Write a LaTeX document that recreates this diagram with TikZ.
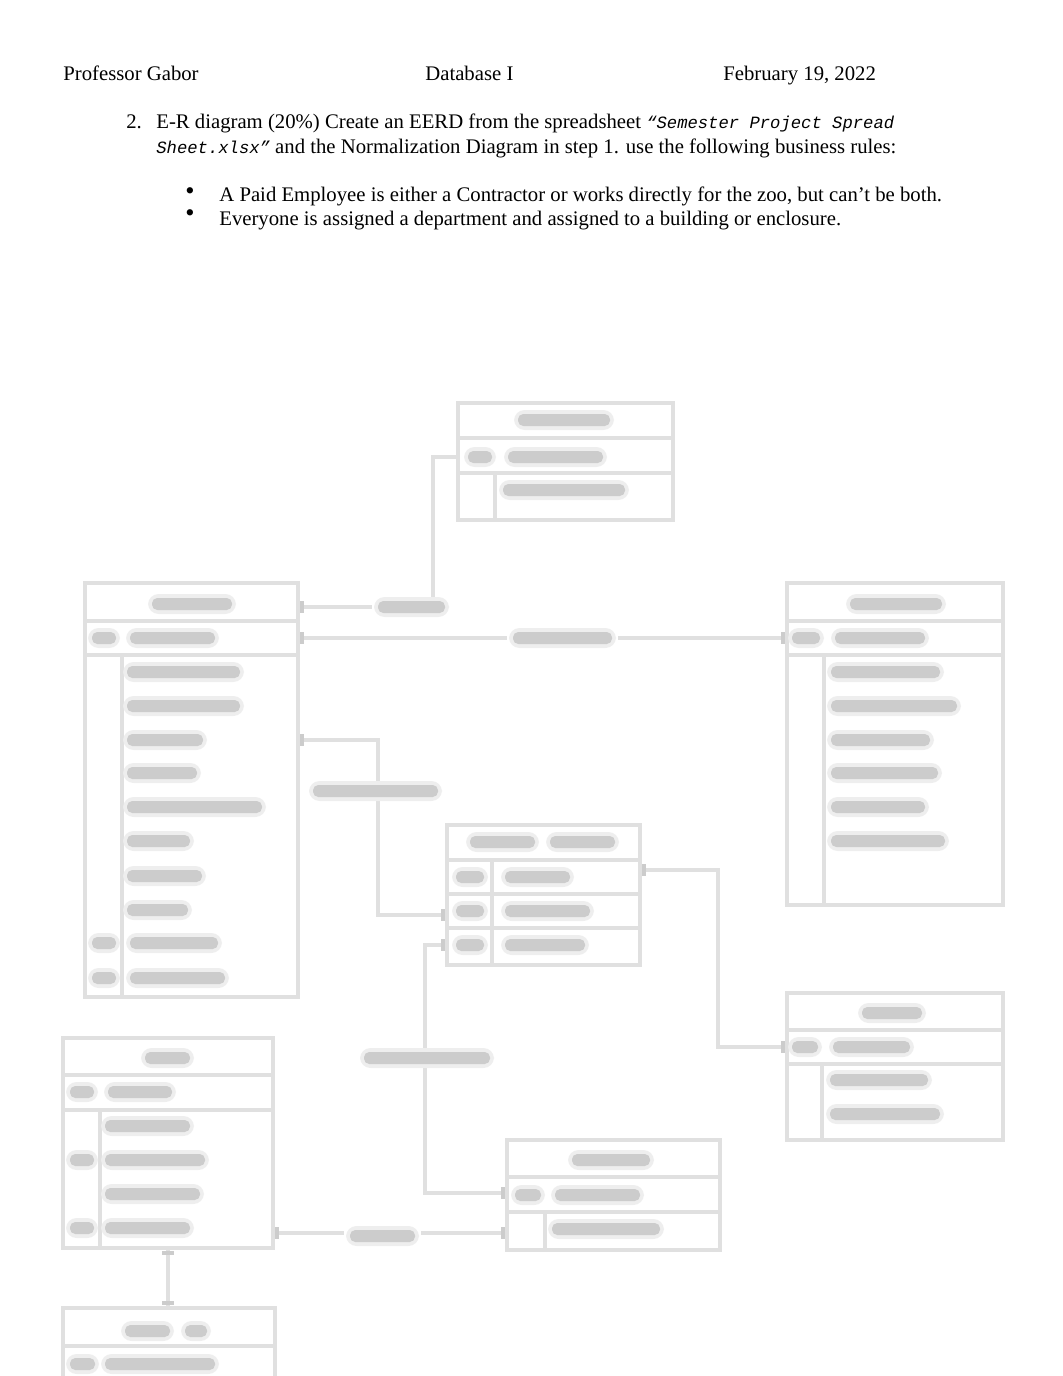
\documentclass[tikz,border=0pt]{standalone}
\usepackage{fontspec}
\setmainfont{Liberation Serif}
\setmonofont{Liberation Mono}
\usetikzlibrary{arrows.meta,calc,positioning}
\definecolor{FrameGray}{RGB}{224,224,224}
\definecolor{InkGray}{RGB}{204,204,204}
\definecolor{HaloGray}{RGB}{238,238,238}
% blurred text line of the scanned diagram
\newcommand{\smudge}[3]{%
	\fill[HaloGray, rounded corners=6pt] (#1-4,#2-10) rectangle (#3+4,#2+10);
	\fill[InkGray, rounded corners=3pt] (#1,#2-6) rectangle (#3,#2+6);}

\begin{document}
\begin{tikzpicture}[x=0.02cm, y=-0.02cm,
	frame/.style={FrameGray, line width=2pt},
	link/.style={FrameGray, line width=2pt},
	ends/.style={InkGray, line width=2.5pt},
	txt/.style={anchor=base west, inner sep=0pt, font=\fontsize{11.8}{14}\selectfont},
	dotmark/.style={txt, font=\fontsize{15}{16}\selectfont}]
		\useasboundingbox (0,0) rectangle (1062,1376);
		% header and task text
		\node[txt] (prof) at (63,80) {Professor Gabor};
		\node[txt] (course) at (425,80) {Database I};
		\node[txt] (date) at (723,80) {February 19, 2022};
		\node[txt] (num) at (126,128) {2.};
		\node[txt] (task1) at (156,128) {E-R diagram (20\%) Create an EERD from the spreadsheet {\fontsize{9.8}{12}\selectfont\ttfamily\itshape “Semester Project Spread}};
		\node[txt] (task2) at (156,153) {{\fontsize{9.8}{12}\selectfont\ttfamily\itshape Sheet.xlsx”} and the Normalization Diagram in step 1. use the following business rules:};
		\node[dotmark] (dot1) at (185,199) {\textbullet};
		\node[txt] (rule1) at (219,201) {A Paid Employee is either a Contractor or works directly for the zoo, but can’t be both.};
		\node[dotmark] (dot2) at (185,221) {\textbullet};
		\node[txt] (rule2) at (219,225) {Everyone is assigned a department and assigned to a building or enclosure.};
		% department
		\draw[frame] (458,403) rectangle (673,520);
		\draw[frame] (458,438) -- (673,438);
		\draw[frame] (458,473) -- (673,473);
		\draw[frame] (495,473) -- (495,520);
		\smudge{518}{420}{610}
		\smudge{468}{457}{492}
		\smudge{508}{457}{603}
		\smudge{503}{490}{625}
		\coordinate (dep-w) at (458,457);
		% employee
		\draw[frame] (85,583) rectangle (298,997);
		\draw[frame] (85,621) -- (298,621);
		\draw[frame] (85,655) -- (298,655);
		\draw[frame] (122,655) -- (122,997);
		\smudge{152}{604}{232}
		\smudge{92}{638}{116}
		\smudge{130}{638}{215}
		\foreach \y/\w in {672/240, 706/240, 740/203, 773/197, 807/262, 841/190, 876/202, 910/188}
			\smudge{127}{\y}{\w};
		\smudge{92}{943}{116}
		\smudge{130}{943}{218}
		\smudge{92}{978}{116}
		\smudge{130}{978}{225}
		\coordinate (emp-e1) at (298,607);
		\coordinate (emp-e2) at (298,638);
		\coordinate (emp-e3) at (298,740);
		% contractor
		\draw[frame] (787,583) rectangle (1003,905);
		\draw[frame] (787,621) -- (1003,621);
		\draw[frame] (787,655) -- (1003,655);
		\draw[frame] (824,655) -- (824,905);
		\smudge{850}{604}{942}
		\smudge{792}{638}{820}
		\smudge{835}{638}{925}
		\foreach \y/\w in {672/940, 706/957, 740/930, 773/938, 807/925, 841/945}
			\smudge{831}{\y}{\w};
		\coordinate (con-w) at (787,638);
		% assignment
		\draw[frame] (447,825) rectangle (640,965);
		\draw[frame] (447,860) -- (640,860);
		\draw[frame] (447,894) -- (640,894);
		\draw[frame] (447,928) -- (640,928);
		\draw[frame] (492,860) -- (492,965);
		\smudge{470}{842}{535}
		\smudge{550}{842}{615}
		\foreach \y/\w in {877/570, 911/590, 945/585} {
			\smudge{456}{\y}{484}
			\smudge{505}{\y}{\w}
		}
		\coordinate (asg-w1) at (447,915);
		\coordinate (asg-w2) at (447,945);
		\coordinate (asg-e) at (640,870);
		% building
		\draw[frame] (787,993) rectangle (1003,1140);
		\draw[frame] (787,1030) -- (1003,1030);
		\draw[frame] (787,1064) -- (1003,1064);
		\draw[frame] (822,1064) -- (822,1140);
		\smudge{862}{1013}{922}
		\smudge{792}{1047}{818}
		\smudge{833}{1047}{910}
		\smudge{830}{1080}{928}
		\smudge{830}{1114}{940}
		\coordinate (bld-w) at (787,1047);
		% animal
		\draw[frame] (63,1038) rectangle (273,1248);
		\draw[frame] (63,1075) -- (273,1075);
		\draw[frame] (63,1110) -- (273,1110);
		\draw[frame] (100,1110) -- (100,1248);
		\smudge{145}{1058}{190}
		\smudge{70}{1092}{94}
		\smudge{108}{1092}{172}
		\smudge{105}{1126}{190}
		\smudge{70}{1160}{94}
		\smudge{105}{1160}{205}
		\smudge{105}{1194}{200}
		\smudge{70}{1228}{94}
		\smudge{105}{1228}{190}
		\coordinate (ani-e) at (273,1233);
		\coordinate (ani-s) at (168,1248);
		% enclosure
		\draw[frame] (507,1140) rectangle (720,1250);
		\draw[frame] (507,1177) -- (720,1177);
		\draw[frame] (507,1212) -- (720,1212);
		\draw[frame] (545,1212) -- (545,1250);
		\smudge{572}{1160}{650}
		\smudge{515}{1195}{541}
		\smudge{555}{1195}{640}
		\smudge{552}{1229}{660}
		\coordinate (enc-w1) at (507,1193);
		\coordinate (enc-w2) at (507,1233);
		% animal type
		\draw[frame] (63,1308) rectangle (275,1400);
		\draw[frame] (63,1346) -- (275,1346);
		\smudge{125}{1331}{170}
		\smudge{185}{1331}{207}
		\smudge{70}{1364}{95}
		\smudge{105}{1364}{215}
		\coordinate (typ-n) at (168,1308);
		% relationships
		\draw[link] (dep-w) -- ++(-25,0) |- (emp-e1);
		\draw[link] (emp-e2) -- (con-w);
		\draw[link] (emp-e3) -- ++(80,0) |- (asg-w1);
		\draw[link] (asg-e) -- ++(78,0) |- (bld-w);
		\draw[link] (asg-w2) -- ++(-22,0) |- (enc-w1);
		\draw[link] (ani-e) -- (enc-w2);
		\draw[link] (ani-s) -- (typ-n);
		\foreach \p/\d in {emp-e1/1, emp-e2/1, emp-e3/1, con-w/-1, asg-w1/-1, asg-w2/-1, asg-e/1, bld-w/-1, enc-w1/-1, enc-w2/-1, ani-e/1}
			\draw[ends] ($(\p)+(\d*4,-6)$) -- ($(\p)+(\d*4,6)$);
		\draw[ends] ($(ani-s)+(-6,5)$) -- ($(ani-s)+(6,5)$);
		\draw[ends] ($(typ-n)+(-6,-5)$) -- ($(typ-n)+(6,-5)$);
		% relationship labels
		\fill[white] (372,598) rectangle (450,616);
		\smudge{378}{607}{445}
		\fill[white] (507,629) rectangle (618,647);
		\smudge{513}{638}{612}
		\fill[white] (307,782) rectangle (444,800);
		\smudge{313}{791}{438}
		\fill[white] (358,1049) rectangle (496,1067);
		\smudge{364}{1058}{490}
		\fill[white] (344,1224) rectangle (421,1242);
		\smudge{350}{1236}{415}
	\end{tikzpicture}
\end{document}
